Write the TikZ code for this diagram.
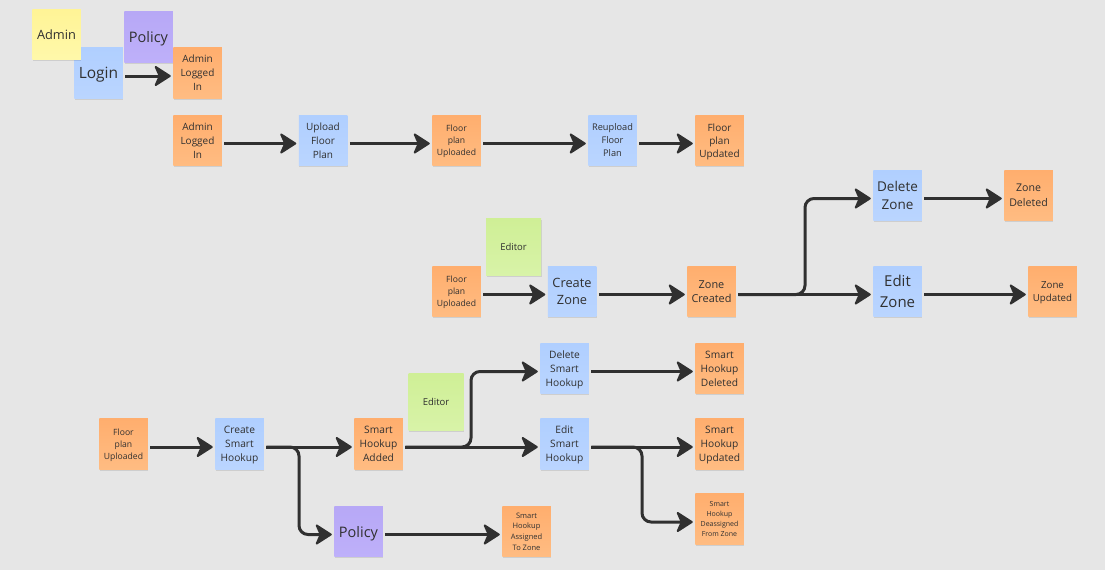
\documentclass[tikz,border=0pt]{standalone}
\usepackage{fontspec}
\setmainfont{Open Sans}
\usepackage{tikz}
\usetikzlibrary{arrows.meta,shadows}
\definecolor{board}{HTML}{E6E6E6}
\definecolor{ink}{HTML}{303030}
\tikzset{
    note/.style={minimum width=48.5pt, minimum height=50.5pt, inner sep=0pt, outer sep=2.5pt, align=center, text=ink, text depth=0pt,
        drop shadow={shadow xshift=.5pt, shadow yshift=-1.5pt, opacity=.1, fill=black}},
    orange/.style={note, top color={rgb,255:red,255;green,174;blue,110}, bottom color={rgb,255:red,255;green,188;blue,130}},
    blue/.style={note, top color={rgb,255:red,176;green,207;blue,255}, bottom color={rgb,255:red,186;green,213;blue,255}},
    purple/.style={note, top color={rgb,255:red,183;green,168;blue,246}, bottom color={rgb,255:red,190;green,176;blue,250}},
    yellow/.style={note, top color={rgb,255:red,255;green,244;blue,150}, bottom color={rgb,255:red,255;green,248;blue,170}},
    green/.style={note, minimum width=55pt, minimum height=57pt, top color={rgb,255:red,207;green,239;blue,150}, bottom color={rgb,255:red,216;green,243;blue,168}},
    txt/.style 2 args={font=\fontsize{#1}{#2}\selectfont},
    flow/.style={draw=ink, line width=3pt, rounded corners=9pt, transform canvas={yshift=-3pt},
        -{Stealth[length=18pt, width=23pt, inset=5pt, line width=2pt, round]}}
}
\begin{document}
\begin{tikzpicture}[x=1pt, y=-1pt]

    \useasboundingbox [fill=board] (0, 0) rectangle (1105, 570);

    \node [blue, txt={15.5}{20}] (login) at (98.5, 73) {Login};
    \node [yellow, txt={12.8}{17}] (admin) at (56.5, 34.5) {Admin};
    \node [purple, txt={14.5}{19}] (policya) at (148.5, 37) {Policy};
    \node [orange, txt={10}{14}] (loggeda) at (197.5, 73) {Admin\\Logged\\In};

    \node [orange, txt={10}{14}] (loggedb) at (197.5, 140.5) {Admin\\Logged\\In};
    \node [blue, txt={10}{14}] (upload) at (323, 140.5) {Upload\\Floor\\Plan};
    \node [orange, txt={8.6}{12}] (uploadeda) at (456.5, 140.5) {Floor\\plan\\Uploaded};
    \node [blue, txt={9.2}{13}] (reupload) at (612.5, 140.5) {Reupload\\Floor\\Plan};
    \node [orange, txt={10}{13}] (updated) at (719.5, 140.5) {Floor\\plan\\Updated};

    \node [green, txt={9.5}{13}] (editora) at (513.5, 247) {Editor};
    \node [orange, txt={8.6}{12}] (uploadedb) at (456.5, 291.5) {Floor\\plan\\Uploaded};
    \node [blue, txt={12.8}{17}] (createz) at (572, 291.5) {Create\\Zone};
    \node [orange, txt={10.9}{14.5}] (zcreated) at (711.5, 291.5) {Zone\\Created};
    \node [blue, txt={13.5}{18.3}] (deletez) at (897.5, 195.5) {Delete\\Zone};
    \node [blue, txt={15}{20.5}] (editz) at (897.5, 291.5) {Edit\\Zone};
    \node [orange, txt={10.6}{14.7}] (zdeleted) at (1028.5, 195.5) {Zone\\Deleted};
    \node [orange, txt={9.7}{13.3}] (zupdated) at (1052.5, 291.5) {Zone\\Updated};

    \node [orange, txt={8.6}{12}] (uploadedc) at (123.5, 444) {Floor\\plan\\Uploaded};
    \node [blue, txt={10.2}{14}] (creates) at (239.5, 444) {Create\\Smart\\Hookup};
    \node [orange, txt={10.2}{14}] (sadded) at (378.5, 444) {Smart\\Hookup\\Added};
    \node [green, txt={9.5}{13}] (editorb) at (436, 401.5) {Editor};
    \node [blue, txt={10.2}{14}] (deletes) at (564.5, 368.5) {Delete\\Smart\\Hookup};
    \node [blue, txt={10.2}{14}] (edits) at (564.5, 444) {Edit\\Smart\\Hookup};
    \node [orange, txt={10.2}{14}] (sdeleted) at (719.5, 368.5) {Smart\\Hookup\\Deleted};
    \node [orange, txt={10.2}{14}] (supdated) at (719.5, 444) {Smart\\Hookup\\Updated};
    \node [orange, txt={7}{9.7}] (sdeassigned) at (719.5, 519) {Smart\\Hookup\\Deassigned\\From Zone};
    \node [purple, txt={14.5}{19}] (policyb) at (358.5, 531.5) {Policy};
    \node [orange, txt={7.5}{10.7}] (sassigned) at (526.5, 531.5) {Smart\\Hookup\\Assigned\\To Zone};

    \coordinate (zturn) at (805, 291.5);
    \coordinate (cturn) at (299, 444);
    \coordinate (aturn) at (471, 444);
    \coordinate (eturn) at (642, 444);

    \draw [flow] (login) to (loggeda);
    \draw [flow] (loggedb) to (upload);
    \draw [flow] (upload) to (uploadeda);
    \draw [flow] (uploadeda) to (reupload);
    \draw [flow] (reupload) to (updated);

    \draw [flow] (uploadedb) to (createz);
    \draw [flow] (createz) to (zcreated);
    \draw [flow] (zcreated) to (editz);
    \draw [flow] (zcreated) -- (zturn) |- (deletez);
    \draw [flow] (deletez) to (zdeleted);
    \draw [flow] (editz) to (zupdated);

    \draw [flow] (uploadedc) to (creates);
    \draw [flow] (creates) to (sadded);
    \draw [flow] (creates) -- (cturn) |- (policyb);
    \draw [flow] (policyb) to (sassigned);
    \draw [flow] (sadded) to (edits);
    \draw [flow] (sadded) -- (aturn) |- (deletes);
    \draw [flow] (deletes) to (sdeleted);
    \draw [flow] (edits) to (supdated);
    \draw [flow] (edits) -- (eturn) |- (sdeassigned);

\end{tikzpicture}
\end{document}
